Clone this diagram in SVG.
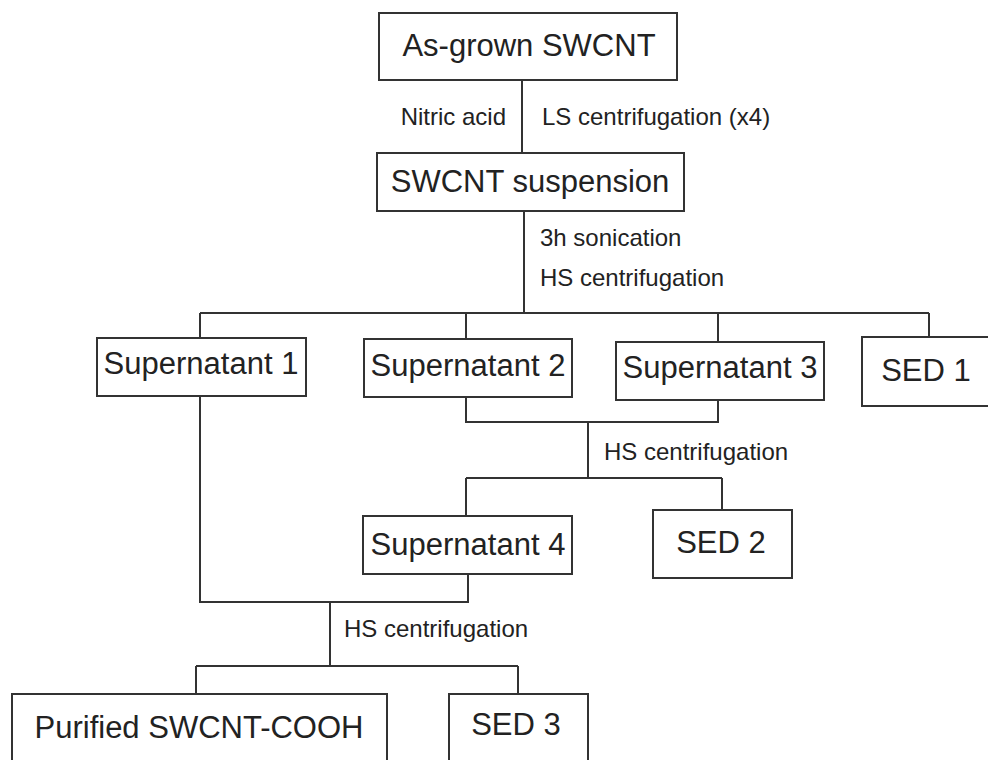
<svg xmlns="http://www.w3.org/2000/svg" width="988" height="760" viewBox="0 0 988 760">
<style>
.box{fill:#fff;stroke:#333;stroke-width:2}
.t{font-family:"Liberation Sans",Arial,sans-serif;font-size:31px;fill:#222;text-anchor:middle}
.l{font-family:"Liberation Sans",Arial,sans-serif;font-size:24px;fill:#222}
.c{fill:none;stroke:#333;stroke-width:2}
</style>
<rect width="988" height="760" fill="#fff"/>
<g id="connectors">
<path class="c" d="M522,80V153"/>
<path class="c" d="M524,211V313M200,313H929M200,313V338M466,313V339M718,313V342M929,313V337"/>
<path class="c" d="M466,397V422H718V400M588,422V478M466,478H722M466,478V516M722,478V510"/>
<path class="c" d="M200,396V602H468V574M330,602V666M196,666H518M196,666V694M518,666V694"/>
</g>
<g id="labels">
<text class="l" x="506" y="125" text-anchor="end">Nitric acid</text>
<text class="l" x="542" y="125">LS centrifugation (x4)</text>
<text class="l" x="540" y="246">3h sonication</text>
<text class="l" x="540" y="286">HS centrifugation</text>
<text class="l" x="604" y="460">HS centrifugation</text>
<text class="l" x="344" y="637">HS centrifugation</text>
</g>
<g id="as-grown"><rect class="box" x="379" y="13" width="298" height="67"/><text class="t" x="529" y="56">As-grown SWCNT</text></g>
<g id="suspension"><rect class="box" x="377" y="153" width="307" height="58"/><text class="t" x="530" y="192">SWCNT suspension</text></g>
<g id="sup1"><rect class="box" x="97" y="338" width="209" height="58"/><text class="t" x="201" y="374">Supernatant 1</text></g>
<g id="sup2"><rect class="box" x="364" y="339" width="208" height="58"/><text class="t" x="468" y="376">Supernatant 2</text></g>
<g id="sup3"><rect class="box" x="616" y="342" width="208" height="58"/><text class="t" x="720" y="378">Supernatant 3</text></g>
<g id="sed1"><rect class="box" x="862" y="337" width="128" height="69"/><text class="t" x="926" y="381">SED 1</text></g>
<g id="sup4"><rect class="box" x="363" y="516" width="209" height="58"/><text class="t" x="468" y="555">Supernatant 4</text></g>
<g id="sed2"><rect class="box" x="653" y="510" width="139" height="68"/><text class="t" x="721" y="553">SED 2</text></g>
<g id="purified"><rect class="box" x="12" y="694" width="375" height="80"/><text class="t" x="199" y="738">Purified SWCNT-COOH</text></g>
<g id="sed3"><rect class="box" x="449" y="694" width="139" height="80"/><text class="t" x="516" y="735">SED 3</text></g>
</svg>
